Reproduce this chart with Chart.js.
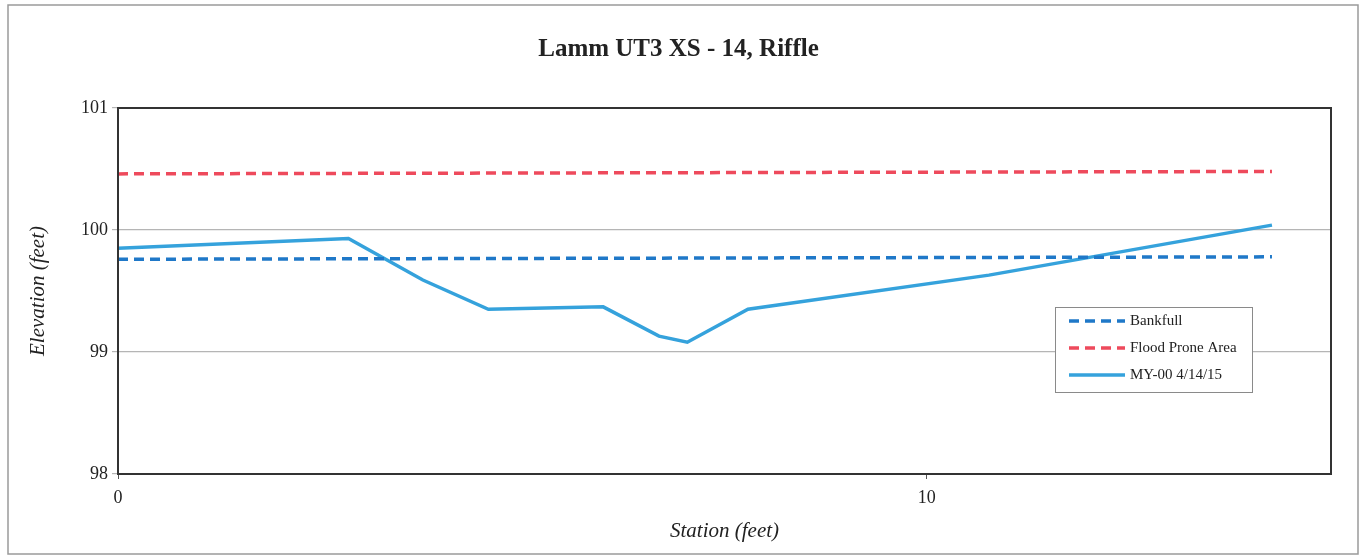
<!DOCTYPE html>
<html>
<head>
<meta charset="utf-8">
<script src="https://cdn.jsdelivr.net/npm/chart.js@4/dist/chart.umd.min.js"></script>
<style>
  html, body { margin: 0; padding: 0; background: #fff; }
  #wrap { width: 1366px; height: 558px; position: relative; }
</style>
</head>
<body>
<div id="wrap"><canvas id="xsChart" width="1366" height="558"></canvas></div>
<script>
// Данные сечения
const stationMY00 = [0, 2.85, 3.77, 4.58, 6.0, 6.69, 7.04, 7.79, 10.77, 14.27];
const elevMY00 = [99.85, 99.93, 99.59, 99.35, 99.37, 99.13, 99.08, 99.35, 99.63, 100.04];
const stationLevels = [0, 14.27];
const elevBankfull = [99.76, 99.78];
const elevFloodProne = [100.46, 100.48];
const xTicks = [0, 10];
const yTicks = [98, 99, 100, 101];
const seriesNames = ['Bankfull', 'Flood Prone Area', 'MY-00 4/14/15'];

const toPoints = (xs, ys) => xs.map((x, i) => ({ x: x, y: ys[i] }));

// рамка графика, рамка области построения и легенда
const framePlugin = {
  id: 'frame',
  beforeDraw(chart) {
    const ctx = chart.ctx;
    ctx.save();
    ctx.strokeStyle = '#9a9a9a';
    ctx.lineWidth = 1.5;
    ctx.strokeRect(8, 5, 1350, 549);
    ctx.restore();
  },
  afterDraw(chart) {
    const ctx = chart.ctx;
    const a = chart.chartArea;
    ctx.save();
    ctx.strokeStyle = '#333';
    ctx.lineWidth = 2;
    ctx.strokeRect(a.left, a.top, a.right - a.left, a.bottom - a.top);

    // легенда
    const lx = 1055, ly = 307, lw = 197, lh = 85;
    ctx.fillStyle = '#fff';
    ctx.fillRect(lx, ly, lw, lh);
    ctx.strokeStyle = '#8a8a8a';
    ctx.lineWidth = 1;
    ctx.strokeRect(lx + 0.5, ly + 0.5, lw, lh);
    ctx.font = '15px "Liberation Serif", serif';
    ctx.textBaseline = 'middle';
    chart.data.datasets.forEach((ds, i) => {
      const y = ly + 14 + i * 27;
      ctx.strokeStyle = ds.borderColor;
      ctx.lineWidth = ds.borderWidth;
      ctx.setLineDash(ds.borderDash || []);
      ctx.beginPath();
      ctx.moveTo(lx + 14, y);
      ctx.lineTo(lx + 70, y);
      ctx.stroke();
      ctx.setLineDash([]);
      ctx.fillStyle = '#222';
      ctx.fillText(ds.label, lx + 75, y);
    });
    ctx.restore();
  }
};

new Chart(document.getElementById('xsChart'), {
  type: 'line',
  data: {
    datasets: [{
      label: seriesNames[0],
      data: toPoints(stationLevels, elevBankfull),
      borderColor: '#1f78c8',
      borderWidth: 3.5,
      borderDash: [10, 6],
      pointRadius: 0,
      fill: false
    }, {
      label: seriesNames[1],
      data: toPoints(stationLevels, elevFloodProne),
      borderColor: '#ee4a5c',
      borderWidth: 3.5,
      borderDash: [10, 6],
      pointRadius: 0,
      fill: false
    }, {
      label: seriesNames[2],
      data: toPoints(stationMY00, elevMY00),
      borderColor: '#35a2dc',
      borderWidth: 3.5,
      pointRadius: 0,
      tension: 0,
      fill: false
    }]
  },
  options: {
    responsive: false,
    animation: false,
    layout: { padding: { left: 26, right: 35, top: 0, bottom: 0 } },
    plugins: {
      legend: { display: false },
      tooltip: { enabled: false },
      title: {
        display: true,
        text: 'Lamm UT3 XS - 14, Riffle',
        color: '#222',
        font: { family: '"Liberation Serif", serif', size: 25, weight: 'bold' },
        padding: { top: 35, bottom: 43 }
      }
    },
    scales: {
      x: {
        type: 'linear',
        min: 0,
        max: 15,
        afterBuildTicks(scale) {
          scale.ticks = xTicks.map(v => ({ value: v }));
        },
        afterFit(scale) { scale.height = 84; },
        grid: { drawOnChartArea: false, drawTicks: true, tickLength: 5, color: '#555' },
        border: { display: false },
        ticks: {
          color: '#222',
          padding: 8,
          font: { family: '"Liberation Serif", serif', size: 18 }
        },
        title: {
          display: true,
          text: 'Station (feet)',
          color: '#222',
          font: { family: '"Liberation Serif", serif', size: 21, style: 'italic' },
          padding: { top: 4, bottom: 14 }
        }
      },
      y: {
        min: 98,
        max: 101,
        afterBuildTicks(scale) {
          scale.ticks = yTicks.map(v => ({ value: v }));
        },
        afterFit(scale) { scale.width = 92; },
        grid: { color: '#b5b5b5', lineWidth: 1.2, tickLength: 6 },
        border: { display: false },
        ticks: {
          color: '#222',
          padding: 4,
          font: { family: '"Liberation Serif", serif', size: 18 }
        },
        title: {
          display: true,
          text: 'Elevation (feet)',
          color: '#222',
          font: { family: '"Liberation Serif", serif', size: 21, style: 'italic' },
          padding: { top: 0, bottom: 0 }
        }
      }
    }
  },
  plugins: [framePlugin]
});
</script>
</body>
</html>
